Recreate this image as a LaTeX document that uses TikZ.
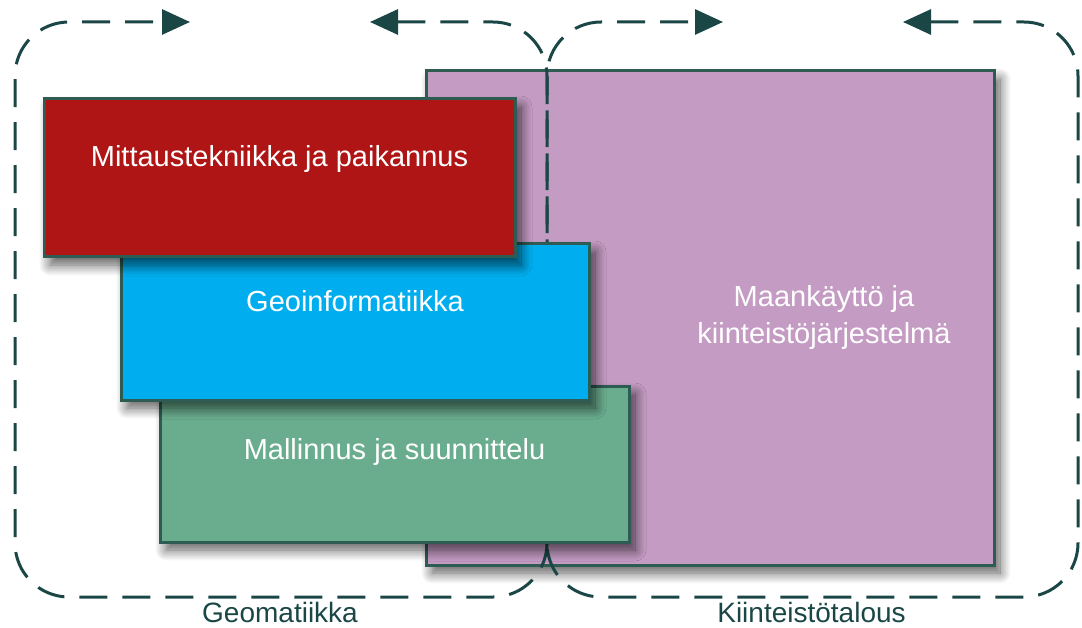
\documentclass[tikz,border=0pt]{standalone}
\usepackage{fontspec}
\setmainfont{Liberation Sans}
\usetikzlibrary{arrows.meta,shadows.blur}
\definecolor{dashcol}{HTML}{1B4646}
\definecolor{edgecol}{HTML}{2E5B52}
\definecolor{redfill}{HTML}{AF1515}
\definecolor{bluefill}{HTML}{00AEEF}
\definecolor{greenfill}{HTML}{6AAD8E}
\definecolor{pinkfill}{HTML}{C49BC3}
\begin{document}
\begin{tikzpicture}[x=1pt,y=1pt,
  boxstyle/.style={draw=edgecol, line width=3pt, rectangle, inner sep=0pt,
    blur shadow={shadow xshift=6pt, shadow yshift=-8pt, shadow blur radius=11pt, shadow blur steps=12, shadow opacity=65}},
  boxtext/.style={text=white, font=\fontsize{29}{37}\selectfont, align=center, inner sep=0pt},
  grouplabel/.style={text=dashcol, font=\fontsize{28}{32}\selectfont, inner sep=0pt, anchor=base},
  dashline/.style={draw=dashcol, line width=3pt, dash pattern=on 28pt off 15pt,
    rounded corners=54pt, {Triangle[length=28pt,width=25pt]}-{Triangle[length=28pt,width=25pt]}}
]
\useasboundingbox (0,0) rectangle (1082,-628);

% pink box
\node[boxstyle, fill=pinkfill, minimum width=568pt, minimum height=494pt] (pink) at (710,-318) {};
\node[boxtext] (pinktext) at (824,-318) {Maankäyttö ja\\kiinteistöjärjestelmä};

% dashed group outlines
\coordinate (lTipR) at (190,-22);
\coordinate (lTipL) at (370,-22);
\coordinate (lTR) at (547,-22);
\coordinate (lBR) at (547,-597);
\coordinate (lBL) at (15,-597);
\coordinate (lTL) at (15,-22);
\draw[dashline] (lTipL) -- (lTR) -- (lBR) -- (lBL) -- (lTL) -- (lTipR);

\coordinate (rTipR) at (723,-22);
\coordinate (rTipL) at (903,-22);
\coordinate (rTR) at (1078,-22);
\coordinate (rBR) at (1078,-597);
\coordinate (rBL) at (547,-597);
\coordinate (rTL) at (547,-22);
\draw[dashline] (rTipL) -- (rTR) -- (rBR) -- (rBL) -- (rTL) -- (rTipR);

% green, blue, red boxes
\node[boxstyle, fill=greenfill, minimum width=469pt, minimum height=156pt] (green) at (394.5,-464) {};
\node[boxtext, anchor=base] (greentext) at (394.5,-459) {Mallinnus ja suunnittelu};

\node[boxstyle, fill=bluefill, minimum width=468pt, minimum height=156pt] (blue) at (355,-322) {};
\node[boxtext, anchor=base] (bluetext) at (355,-312) {Geoinformatiikka};

\node[boxstyle, fill=redfill, minimum width=471pt, minimum height=158pt] (red) at (279.5,-178) {};
\node[boxtext, anchor=base] (redtext) at (279.5,-167) {Mittaustekniikka ja paikannus};

% group labels
\node[grouplabel] (geolabel) at (280,-622) {Geomatiikka};
\node[grouplabel] (kiinlabel) at (811.5,-622) {Kiinteistötalous};
\end{tikzpicture}
\end{document}
